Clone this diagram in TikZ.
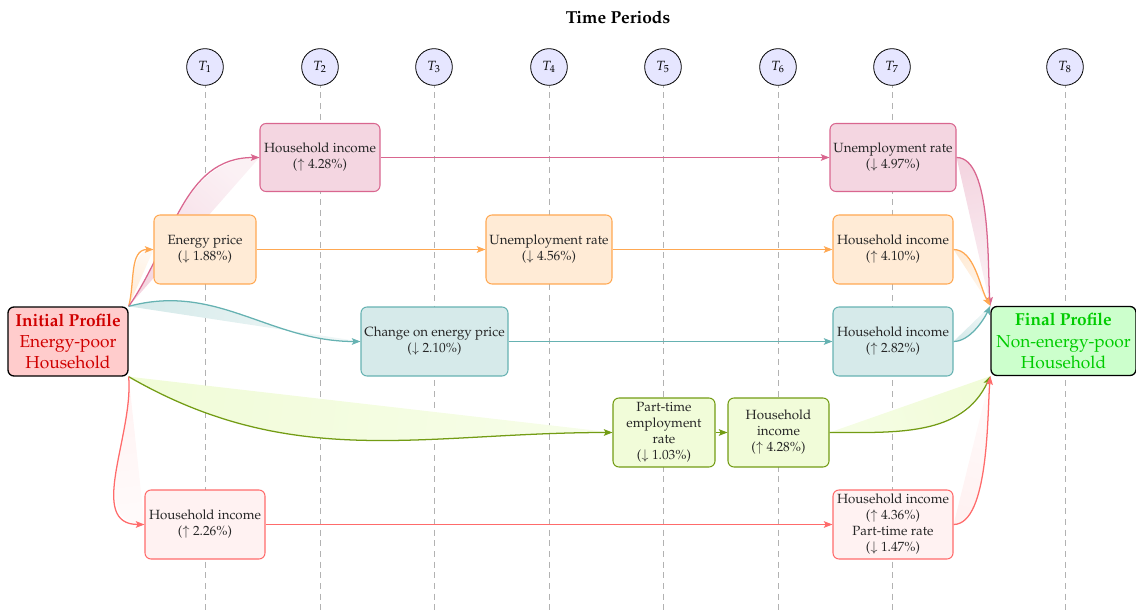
\documentclass[tikz,border=0pt]{standalone}
\usepackage[T1]{fontenc}
\usepackage{mathpazo}
\usetikzlibrary{arrows.meta}

\definecolor{pinkD}{HTML}{D9668F}
\definecolor{pinkF}{HTML}{F4D6E1}
\definecolor{orangeD}{HTML}{FFA852}
\definecolor{orangeF}{HTML}{FFEBD6}
\definecolor{tealD}{HTML}{66B2B2}
\definecolor{tealF}{HTML}{D6EAEA}
\definecolor{limeD}{HTML}{739C14}
\definecolor{limeF}{HTML}{F1FCD9}
\definecolor{roseD}{HTML}{FF6B6B}
\definecolor{roseF}{HTML}{FFF2F2}
\definecolor{initF}{HTML}{FFCCCC}
\definecolor{initT}{HTML}{D00000}
\definecolor{finF}{HTML}{CCFFCC}
\definecolor{finT}{HTML}{00CC00}
\definecolor{periodF}{HTML}{E6E6FF}

\pgfdeclarelayer{gridlayer}
\pgfdeclarelayer{linklayer}
\pgfsetlayers{gridlayer,linklayer,main}

\tikzset{
  period/.style={circle, draw=black, fill=periodF, line width=0.6pt,
    minimum size=27.5pt, inner sep=0pt},
  timeline/.style={gray!60, line width=0.6pt, dash pattern=on 4.5pt off 3.5pt},
  box/.style={rounded corners=4.5pt, align=center, inner sep=2pt,
    line width=0.8pt, font=\fontsize{10}{12}\selectfont, text=black!85},
  pinkbox/.style={box, draw=pinkD, fill=pinkF},
  orangebox/.style={box, draw=orangeD, fill=orangeF},
  tealbox/.style={box, draw=tealD, fill=tealF},
  limebox/.style={box, draw=limeD, fill=limeF},
  rosebox/.style={box, draw=roseD, fill=roseF},
  profile/.style={rounded corners=4.5pt, align=center, inner sep=2pt,
    draw=black, line width=1pt, font=\fontsize{13}{16}\selectfont,
    minimum height=51.75pt},
  link/.style={line width=0.95pt,
    -{Stealth[length=6.5pt,width=5pt,inset=1.4pt]}},
  ribbon/.style 2 args={left color=#1, right color=#1!35!white, shading angle=#2},
}

\begin{document}
\begin{tikzpicture}[x=0.75pt, y=-0.75pt]
\useasboundingbox (0,0) rectangle (1136,613);

% heading and time axis
\node[font=\fontsize{13}{16}\selectfont\bfseries] (title) at (618,17) {Time Periods};
\foreach \i/\x in {1/205,2/320,3/434,4/549,5/663,6/778,7/892,8/1065}{
  \node[period] (t\i) at (\x,67) {$T_{\i}$};
  \begin{pgfonlayer}{gridlayer}
    \draw[timeline] (t\i.center) ++(0,4) -- (\x,613);
  \end{pgfonlayer}
}

% profiles
\node[profile, fill=initF, text=initT, minimum width=90pt] (init) at (68,341.5)
  {\textbf{Initial Profile}\\Energy-poor\\Household};
\node[profile, fill=finF, text=finT, minimum width=108.75pt] (fin) at (1063.5,341)
  {\textbf{Final Profile}\\Non-energy-poor\\Household};

% pathway boxes
\node[pinkbox, minimum width=90pt, minimum height=51pt] (pA) at (320,157.5)
  {Household income\\($\uparrow$ 4.28\%)};
\node[pinkbox, minimum width=94.5pt, minimum height=51pt] (pB) at (893,157.5)
  {Unemployment rate\\($\downarrow$ 4.97\%)};

\node[orangebox, minimum width=76.5pt, minimum height=51.75pt] (oA) at (205,249.5)
  {Energy price\\($\downarrow$ 1.88\%)};
\node[orangebox, minimum width=94.5pt, minimum height=51.75pt] (oB) at (549,249.5)
  {Unemployment rate\\($\downarrow$ 4.56\%)};
\node[orangebox, minimum width=90pt, minimum height=51.75pt] (oC) at (893,249.5)
  {Household income\\($\uparrow$ 4.10\%)};

\node[tealbox, minimum width=110.25pt, minimum height=51.75pt] (tA) at (434.5,341.5)
  {Change on energy price\\($\downarrow$ 2.10\%)};
\node[tealbox, minimum width=90pt, minimum height=51.75pt] (tB) at (893,341.5)
  {Household income\\($\uparrow$ 2.82\%)};

\node[limebox, minimum width=76.5pt, minimum height=51.75pt] (gA) at (664,432.5)
  {Part-time\\employment\\rate\\($\downarrow$ 1.03\%)};
\node[limebox, minimum width=75.75pt, minimum height=51.75pt] (gB) at (778.5,432.5)
  {Household\\income\\($\uparrow$ 4.28\%)};

\node[rosebox, minimum width=90pt, minimum height=51.75pt] (rA) at (205,524.5)
  {Household income\\($\uparrow$ 2.26\%)};
\node[rosebox, minimum width=90pt, minimum height=51.75pt] (rB) at (893,524.5)
  {Household income\\($\uparrow$ 4.36\%)\\Part-time rate\\($\downarrow$ 1.47\%)};

\begin{pgfonlayer}{linklayer}
  % shaded ribbons under the curved links
  \shade[ribbon={orangeF}{155}] (init.north east) to[out=75,in=180] (oA.west) -- cycle;
  \shade[ribbon={pinkF}{138}] (init.north east) to[out=55,in=180] (pA.west) -- cycle;
  \shade[ribbon={tealF}{80}] (init.north east) to[out=15,in=180] (tA.west) -- cycle;
  \shade[left color=limeF, right color=limeF!60!white, shading angle=83]
    (init.south east) to[out=-30,in=180] (gA.west) -- cycle;
  \shade[ribbon={roseF}{7}] (init.south east) to[out=-85,in=180] (rA.west) -- cycle;

  \shade[ribbon={pinkF}{13}] (pB.east) to[out=0,in=95,looseness=0.6] (fin.north west) -- cycle;
  \shade[ribbon={orangeF}{35}] (oC.east) to[out=0,in=120,looseness=0.8] (fin.north west) -- cycle;
  \shade[ribbon={tealF}{138}] (tB.east) to[out=0,in=-115,looseness=0.8] (fin.north west) -- cycle;
  \shade[left color=limeF!70!white, right color=limeF, shading angle=108]
    (gB.east) to[out=0,in=-115] (fin.south west) -- cycle;
  \shade[ribbon={roseF}{166}] (rB.east) to[out=0,in=-95,looseness=0.6] (fin.south west) -- cycle;

  % curved links from the initial profile
  \draw[link, orangeD] (init.north east) to[out=75,in=180] (oA.west);
  \draw[link, pinkD] (init.north east) to[out=55,in=180] (pA.west);
  \draw[link, tealD] (init.north east) to[out=15,in=180] (tA.west);
  \draw[link, limeD] (init.south east) to[out=-30,in=180] (gA.west);
  \draw[link, roseD] (init.south east) to[out=-85,in=180] (rA.west);

  % straight links along each pathway
  \draw[link, pinkD] (pA.east) -- (pB.west);
  \draw[link, orangeD] (oA.east) -- (oB.west);
  \draw[link, orangeD] (oB.east) -- (oC.west);
  \draw[link, tealD] (tA.east) -- (tB.west);
  \draw[link, limeD] (gA.east) -- (gB.west);
  \draw[link, roseD] (rA.east) -- (rB.west);

  % curved links into the final profile
  \draw[link, pinkD] (pB.east) to[out=0,in=95,looseness=0.6] (fin.north west);
  \draw[link, orangeD] (oC.east) to[out=0,in=120,looseness=0.8] (fin.north west);
  \draw[link, tealD] (tB.east) to[out=0,in=-115,looseness=0.8] (fin.north west);
  \draw[link, limeD] (gB.east) to[out=0,in=-115] (fin.south west);
  \draw[link, roseD] (rB.east) to[out=0,in=-95,looseness=0.6] (fin.south west);
\end{pgfonlayer}
\end{tikzpicture}
\end{document}
